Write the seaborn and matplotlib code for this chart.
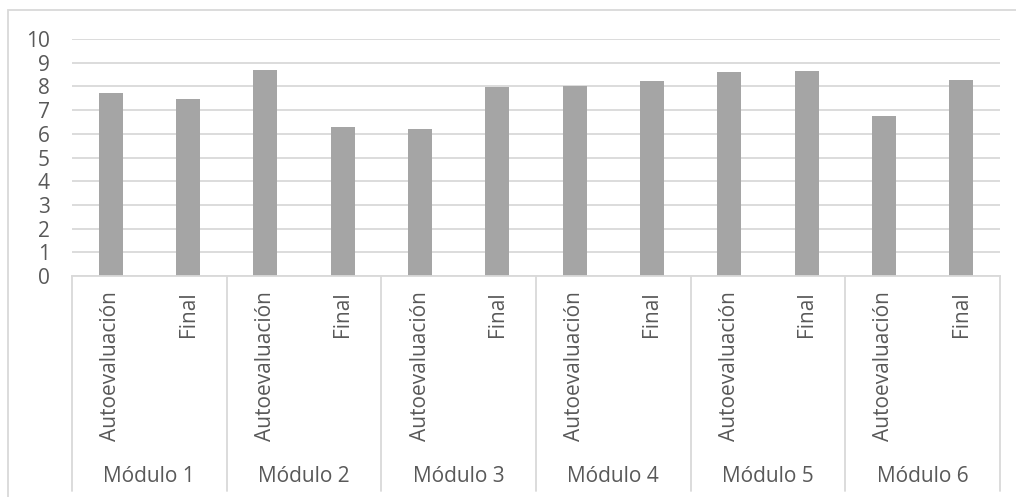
import matplotlib
matplotlib.use("Agg")
import matplotlib.pyplot as plt
import matplotlib.transforms as mtransforms
from matplotlib.lines import Line2D
from matplotlib.patches import Rectangle
import seaborn as sns
import pandas as pd

# Grades per module: self-assessment and final
modules = ["Módulo 1", "Módulo 2", "Módulo 3", "Módulo 4", "Módulo 5", "Módulo 6"]
kinds = ["Autoevaluación", "Final"]
autoevaluacion = [7.74, 8.68, 6.21, 8.02, 8.62, 6.73]
final = [7.47, 6.29, 7.96, 8.23, 8.65, 8.26]
y_ticks = list(range(0, 11))

rows = []
for m, a, f in zip(modules, autoevaluacion, final):
    rows.append({"slot": f"{m}|{kinds[0]}", "modulo": m, "tipo": kinds[0], "nota": a})
    rows.append({"slot": f"{m}|{kinds[1]}", "modulo": m, "tipo": kinds[1], "nota": f})
df = pd.DataFrame(rows)

sns.set_theme(style="white")
plt.rcParams["font.family"] = ["Open Sans", "DejaVu Sans"]

TEXT = "#595959"
GRID = "#d9d9d9"
BAR = "#a5a5a5"
FS = 15

W, H = 1016, 497
fig = plt.figure(figsize=(W / 100, H / 100), dpi=100)
ax = fig.add_axes([72 / W, (H - 276) / H, (1000 - 72) / W, (276 - 39) / H])

sns.barplot(data=df, x="slot", y="nota", order=list(df["slot"]), color=BAR,
            width=0.31, saturation=1, ax=ax, zorder=3)
for p in ax.patches:
    p.set_edgecolor("none")

ax.set_ylim(0, 10)
ax.set_xlim(-0.5, len(df) - 0.5)
ax.set_yticks(y_ticks)
ax.set_yticklabels([str(t) for t in y_ticks], fontsize=FS, color=TEXT)
ax.yaxis.grid(True, color=GRID, linewidth=1.3, zorder=0)
ax.xaxis.grid(False)
ax.set_axisbelow(True)

ax.set_xticks(range(len(df)))
ax.set_xticklabels(list(df["tipo"]), rotation=90, fontsize=FS, color=TEXT,
                   va="top", ha="center")
ax.tick_params(axis="x", length=0, pad=11)
ax.tick_params(axis="y", length=0, pad=16)
ax.set_xlabel("")
ax.set_ylabel("")

for side in ["top", "right", "left"]:
    ax.spines[side].set_visible(False)
ax.spines["bottom"].set_color(GRID)
ax.spines["bottom"].set_linewidth(1.3)
ax.spines["bottom"].set_zorder(4)

# Category table below the axis: separators and module names
trans = mtransforms.blended_transform_factory(ax.transData, ax.transAxes)
sep_bottom = (276 - 491) / (276 - 39)
for i in range(len(modules) + 1):
    x = i * 2 - 0.5
    ax.add_line(Line2D([x, x], [0, sep_bottom], transform=trans, color=GRID,
                       linewidth=1.3, clip_on=False))
label_y = (276 - 477) / (276 - 39)
for i, m in enumerate(modules):
    ax.text(i * 2 + 0.5, label_y, m, transform=trans, ha="center", va="center",
            fontsize=FS, color=TEXT)

# Chart frame
fig.patches.append(Rectangle((8 / W, -0.05), 1.1, (H - 10) / H + 0.05,
                             transform=fig.transFigure, fill=False,
                             edgecolor=GRID, linewidth=1.3))

fig.savefig("out.png", dpi=100, facecolor="white")
